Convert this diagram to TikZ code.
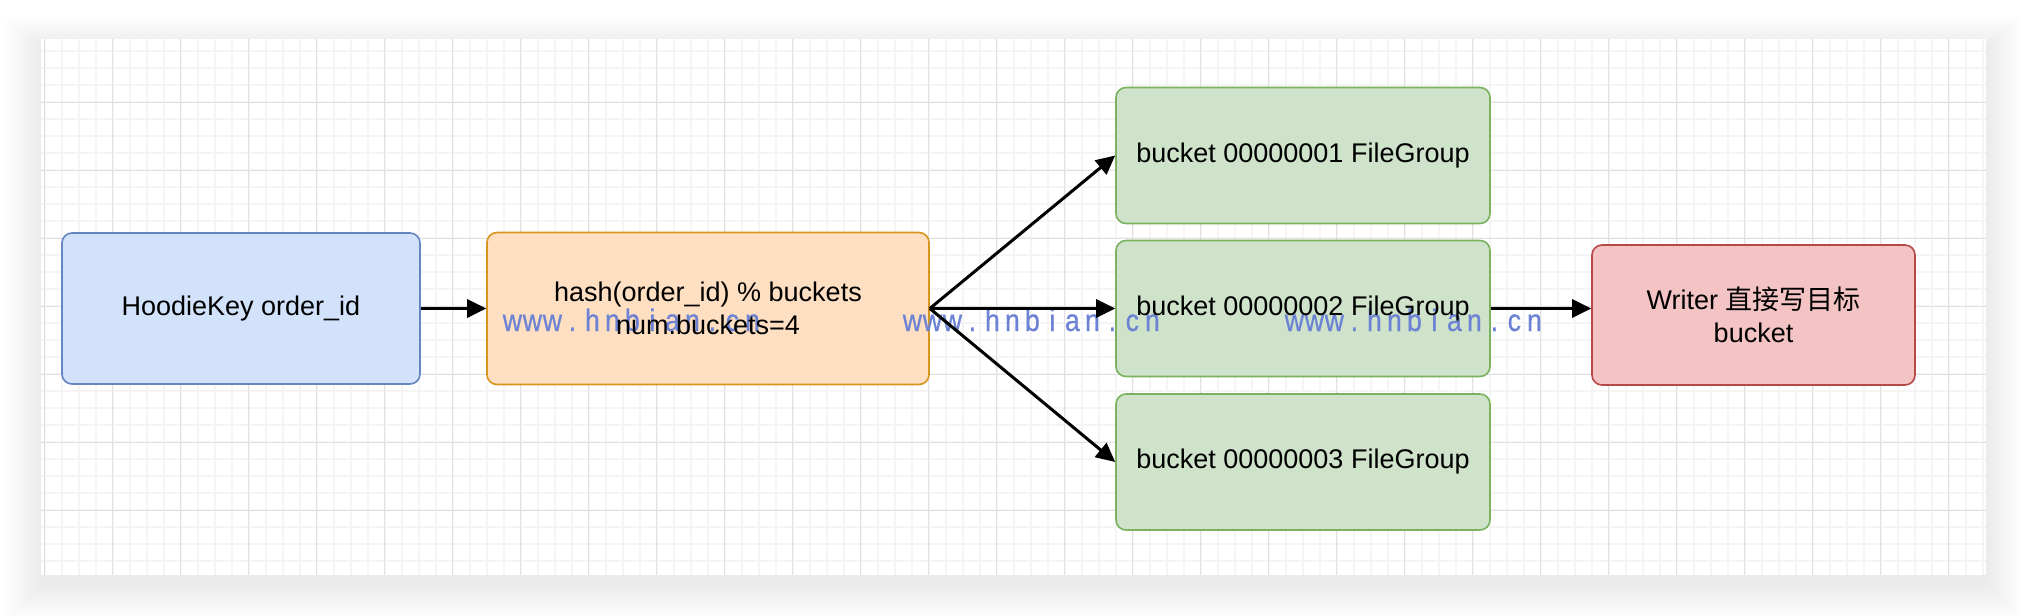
\documentclass[tikz,border=0pt]{standalone}
\usepackage{fontspec}
\usepackage{graphicx}
\setmainfont{Liberation Sans}
\newfontfamily\cjkfont{Noto Sans CJK SC}
\newfontfamily\wmfont[FakeBold=0.6]{Liberation Sans}
\usetikzlibrary{arrows.meta}
\definecolor{bluefill}{RGB}{210,226,250}
\definecolor{bluedraw}{RGB}{100,134,192}
\definecolor{orangefill}{RGB}{254,223,193}
\definecolor{orangedraw}{RGB}{214,150,30}
\definecolor{greenfill}{RGB}{206,227,202}
\definecolor{greendraw}{RGB}{122,178,96}
\definecolor{redfill}{RGB}{244,195,195}
\definecolor{reddraw}{RGB}{182,72,72}
\definecolor{wmblue}{RGB}{108,130,212}
\definecolor{minorgrid}{RGB}{245,245,245}
\definecolor{majorgrid}{RGB}{225,225,225}
\newcommand\wmcell[1]{\makebox[10pt][c]{\scalebox{0.86}[1]{#1}}}
\def\wmtext#1{\wmloop#1\relax}
\def\wmloop#1{\ifx\relax#1\else\wmcell{#1}\expandafter\wmloop\fi}
\tikzset{
  box/.style={draw, rounded corners=5pt, line width=0.8pt, inner sep=0pt},
  keybox/.style={box, fill=bluefill, draw=bluedraw},
  hashbox/.style={box, fill=orangefill, draw=orangedraw},
  bucketbox/.style={box, fill=greenfill, draw=greendraw, minimum width=187pt, minimum height=68pt},
  writerbox/.style={box, fill=redfill, draw=reddraw},
  boxtext/.style={align=center, inner sep=0pt, font=\fontsize{13.5}{16.5}\selectfont},
  conn/.style={-{Triangle[length=9.5pt,width=9pt]}, line width=1.5pt, black},
  wmark/.style={anchor=base west, inner sep=0pt, text=wmblue, font=\wmfont\fontsize{15.5}{15.5}\selectfont},
}
\begin{document}
\begin{tikzpicture}[x=0.5pt, y=-0.5pt]
\useasboundingbox (0,0) rectangle (2026,616);
% canvas shadow
\foreach \i in {1,...,20} {
  \fill[black, opacity=0.0045] (41-\i*1.8, 39-\i*1.5+8) rectangle (1986+\i*1.8, 575+\i*1.9+8);
}
\fill[white] (41,39) rectangle (1986,575);
% grid
\begin{scope}
\clip (41,39) rectangle (1986,575);
\foreach \x in {44.6,61.6,...,1990} \draw[minorgrid, line width=0.9pt] (\x,39) -- (\x,575);
\foreach \y in {51,68,...,580} \draw[minorgrid, line width=0.9pt] (41,\y) -- (1986,\y);
\foreach \x in {44.6,112.6,...,1990} \draw[majorgrid, line width=0.5pt] (\x,39) -- (\x,575);
\foreach \y in {102,170,...,580} \draw[majorgrid, line width=0.5pt] (41,\y) -- (1986,\y);
\end{scope}
% boxes
\node[keybox, minimum width=179pt, minimum height=75.5pt] (key) at (241,308.5) {};
\node[hashbox, minimum width=221pt, minimum height=76pt] (hash) at (708,308.5) {};
\node[bucketbox] (b1) at (1303,155.5) {};
\node[bucketbox] (b2) at (1303,308.5) {};
\node[bucketbox] (b3) at (1303,462) {};
\node[writerbox, minimum width=161.5pt, minimum height=70pt] (writer) at (1753.5,315) {};
% watermark (over the fills, under the texts)
\node[wmark] (wm1) at (502,331) {\wmtext{www.hnbian.cn}};
\node[wmark] (wm2) at (902,331) {\wmtext{www.hnbian.cn}};
\node[wmark] (wm3) at (1284,331) {\wmtext{www.hnbian.cn}};
% texts
\node[boxtext] (keyt) at (key) {HoodieKey order\_id};
\node[boxtext] (hasht) at (hash) {hash(order\_id) \% buckets\\num.buckets=4};
\node[boxtext] (b1t) at (b1) {bucket 00000001 FileGroup};
\node[boxtext] (b2t) at (b2) {bucket 00000002 FileGroup};
\node[boxtext] (b3t) at (b3) {bucket 00000003 FileGroup};
\node[boxtext] (writert) at (writer) {Writer {\cjkfont 直接写目标}\\bucket};
% connectors
\draw[conn] (key) -- (hash);
\draw[conn] (hash.east) -- (b1.west);
\draw[conn] (hash.east) -- (b2.west);
\draw[conn] (hash.east) -- (b3.west);
\draw[conn] (b2.east) -- (b2.east -| writer.west);
\end{tikzpicture}
\end{document}
